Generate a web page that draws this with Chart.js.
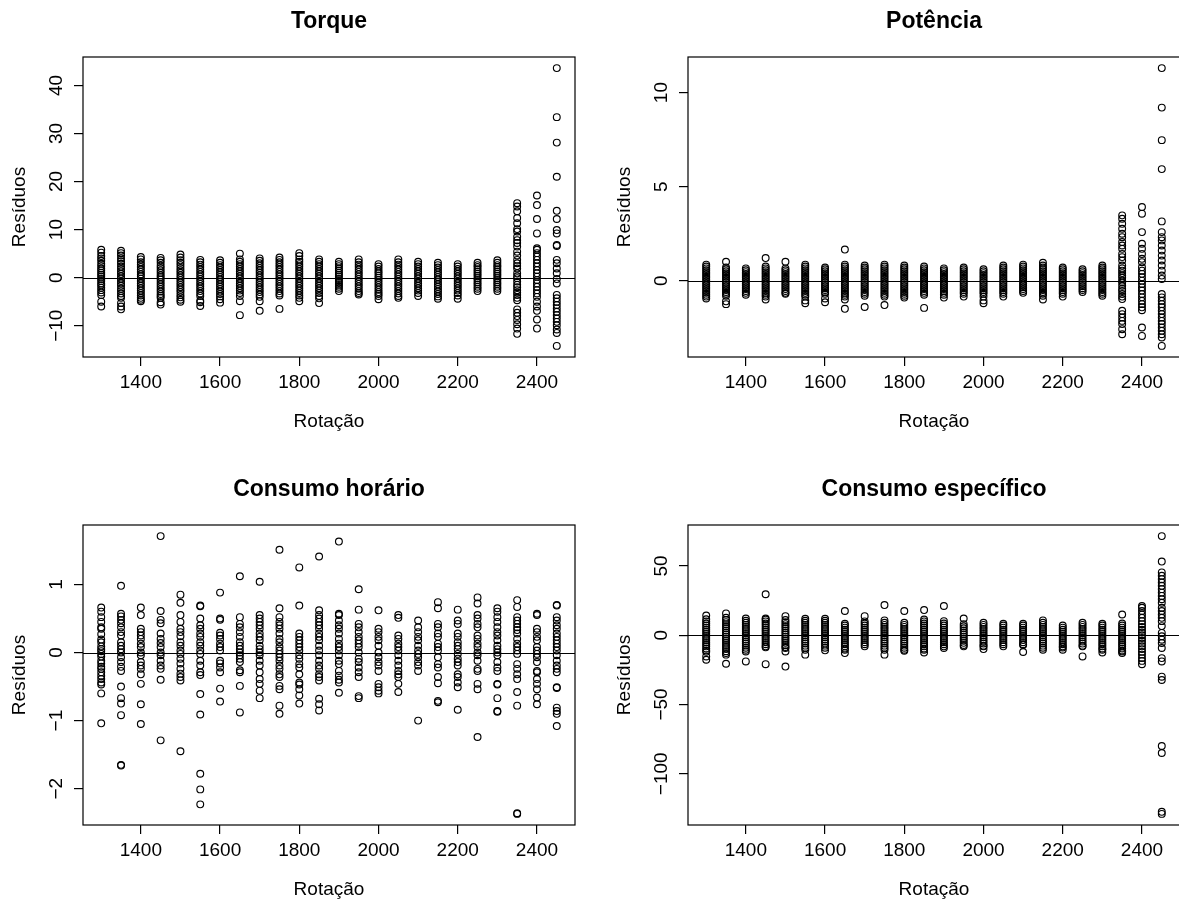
<!DOCTYPE html>
<html lang="pt">
<head>
<meta charset="UTF-8">
<title>Resíduos x Rotação</title>
<script src="https://cdn.jsdelivr.net/npm/chart.js"></script>
<style>
  html, body { margin: 0; padding: 0; background: #fff; }
  #quadro { position: relative; width: 1179px; height: 900px; overflow: hidden; background: #fff; }
  #quadro canvas { position: absolute; }
</style>
</head>
<body>
<div id="quadro">
  <canvas id="c1" width="605" height="468" style="left:0;top:0"></canvas>
  <canvas id="c2" width="605" height="468" style="left:605px;top:0"></canvas>
  <canvas id="c3" width="605" height="468" style="left:0;top:468px"></canvas>
  <canvas id="c4" width="605" height="468" style="left:605px;top:468px"></canvas>
</div>
<script>
// rotações ensaiadas (eixo x de todos os painéis)
const rotacao = [1300, 1350, 1400, 1450, 1500, 1550, 1600, 1650, 1700, 1750, 1800, 1850,
                 1900, 1950, 2000, 2050, 2100, 2150, 2200, 2250, 2300, 2350, 2400, 2450];
const xTicks = [1400, 1600, 1800, 2000, 2200, 2400];

// resíduos, uma lista por rotação
const torqueRes = [
  [5.8, 5.2, 4.5, 4.0, 3.5, 2.9, 2.4, 1.9, 1.5, 1.0, 0.6, 0.2, -0.3, -0.7, -1.2, -1.6, -2.1, -2.6, -3.1, -3.6, -5.0, -6.0],
  [5.6, 5.1, 4.6, 4.0, 3.4, 2.9, 2.3, 1.8, 1.3, 0.8, 0.3, -0.2, -0.7, -1.2, -1.7, -2.3, -2.8, -3.3, -3.8, -4.2, -5.3, -6.0, -6.6],
  [4.3, 3.8, 3.2, 2.7, 2.2, 1.7, 1.2, 0.7, 0.3, -0.2, -0.7, -1.2, -1.7, -2.2, -2.7, -3.2, -3.7, -4.2, -4.6, -4.9],
  [4.1, 3.6, 3.1, 2.5, 2.0, 1.5, 1.0, 0.5, 0.1, -0.4, -0.9, -1.4, -1.9, -2.4, -2.9, -3.4, -3.8, -4.2, -5.1, -5.6],
  [4.8, 4.2, 3.6, 3.1, 2.6, 2.0, 1.5, 1.0, 0.5, 0.0, -0.5, -1.0, -1.5, -2.0, -2.5, -3.0, -3.6, -4.1, -4.6, -5.0],
  [3.7, 3.2, 2.7, 2.2, 1.7, 1.2, 0.7, 0.2, -0.3, -0.8, -1.3, -1.8, -2.3, -2.8, -3.3, -3.8, -4.8, -5.1, -5.9],
  [3.6, 3.1, 2.6, 2.1, 1.6, 1.1, 0.6, 0.1, -0.4, -0.9, -1.4, -1.9, -2.4, -2.9, -3.4, -3.9, -4.5, -5.2],
  [5.0, 3.8, 3.3, 2.8, 2.3, 1.8, 1.3, 0.8, 0.3, -0.2, -0.7, -1.2, -1.7, -2.2, -2.7, -3.2, -3.8, -4.9, -7.8],
  [4.0, 3.5, 3.0, 2.5, 2.0, 1.5, 1.0, 0.5, 0.0, -0.5, -1.0, -1.5, -2.0, -2.5, -3.0, -3.5, -4.0, -4.9, -6.9],
  [4.2, 3.7, 3.2, 2.7, 2.2, 1.7, 1.2, 0.7, 0.2, -0.3, -0.8, -1.3, -1.8, -2.3, -2.8, -3.3, -3.7, -6.5],
  [5.1, 4.5, 3.8, 3.3, 2.8, 2.3, 1.8, 1.3, 0.8, 0.3, -0.2, -0.7, -1.2, -1.7, -2.2, -2.7, -3.2, -3.7, -4.2, -4.9],
  [3.8, 3.3, 2.8, 2.3, 1.8, 1.3, 0.8, 0.3, -0.2, -0.7, -1.2, -1.7, -2.2, -2.7, -3.2, -3.8, -4.3, -5.3],
  [3.3, 2.8, 2.4, 1.9, 1.5, 1.0, 0.6, 0.2, -0.3, -0.7, -1.1, -1.5, -1.9, -2.3, -2.8],
  [3.8, 3.2, 2.7, 2.2, 1.7, 1.2, 0.7, 0.2, -0.3, -0.8, -1.3, -1.8, -2.3, -2.8, -3.2, -3.5],
  [2.8, 2.3, 1.8, 1.3, 0.9, 0.4, 0.0, -0.5, -1.0, -1.5, -2.0, -2.5, -3.0, -3.4, -3.8, -4.5],
  [3.8, 3.2, 2.7, 2.2, 1.7, 1.2, 0.7, 0.2, -0.3, -0.8, -1.3, -1.8, -2.3, -2.8, -3.3, -3.8, -4.2],
  [3.3, 2.8, 2.3, 1.8, 1.3, 0.8, 0.3, -0.2, -0.7, -1.2, -1.7, -2.2, -2.7, -3.2, -3.8],
  [3.1, 2.6, 2.1, 1.6, 1.1, 0.6, 0.1, -0.4, -0.9, -1.4, -1.9, -2.4, -2.9, -3.4, -3.9, -4.4],
  [2.8, 2.3, 1.8, 1.3, 0.8, 0.3, -0.2, -0.7, -1.2, -1.7, -2.2, -2.7, -3.2, -3.7, -4.4],
  [3.1, 2.6, 2.2, 1.7, 1.3, 0.8, 0.4, -0.1, -0.5, -1.0, -1.4, -1.9, -2.3, -2.8],
  [3.6, 3.1, 2.6, 2.2, 1.7, 1.3, 0.8, 0.4, -0.1, -0.5, -1.0, -1.4, -1.9, -2.3, -2.8],
  [15.5, 14.8, 13.8, 12.4, 11.3, 10.1, 9.6, 8.5, 7.8, 7.2, 6.5, 5.4, 4.6, 3.7, 3.0, 2.4, 1.9, 0.9, 0.3, -0.1, -0.8, -1.5,
   -2.0, -2.6, -3.1, -3.6, -4.2, -4.7, -6.6, -7.3, -8.0, -8.8, -9.7, -10.6, -11.7],
  [17.1, 15.1, 12.2, 9.2, 6.1, 5.8, 5.1, 4.4, 3.7, 3.0, 2.3, 1.6, 0.9, 0.2, -0.5, -1.2, -1.9, -2.6, -3.3, -4.0, -5.0,
   -6.0, -6.9, -8.7, -10.6],
  [43.6, 33.4, 28.1, 21.0, 13.9, 12.2, 9.9, 9.2, 6.8, 6.6, 3.7, 3.0, 1.9, 0.9, -0.3, -1.2, -3.6, -4.3, -5.0, -5.7, -6.4,
   -7.1, -7.8, -8.5, -9.2, -9.9, -10.8, -11.5, -14.2]
];

const potenciaRes = [
  [0.85, 0.75, 0.65, 0.55, 0.45, 0.35, 0.25, 0.15, 0.05, -0.05, -0.15, -0.25, -0.35, -0.45, -0.55, -0.65, -0.75, -0.85, -0.95],
  [1.0, 0.7, 0.6, 0.5, 0.4, 0.3, 0.2, 0.1, 0.0, -0.1, -0.2, -0.3, -0.4, -0.5, -0.6, -0.7, -0.8, -1.1, -1.25],
  [0.65, 0.55, 0.45, 0.35, 0.25, 0.15, 0.05, -0.05, -0.15, -0.25, -0.35, -0.45, -0.55, -0.65, -0.75],
  [1.2, 0.75, 0.65, 0.55, 0.45, 0.35, 0.25, 0.15, 0.05, -0.05, -0.15, -0.25, -0.35, -0.45, -0.55, -0.65, -0.75, -0.85, -1.0],
  [1.0, 0.65, 0.55, 0.45, 0.35, 0.25, 0.15, 0.05, -0.05, -0.15, -0.25, -0.35, -0.45, -0.55, -0.65, -0.7],
  [0.85, 0.75, 0.65, 0.55, 0.45, 0.35, 0.25, 0.15, 0.05, -0.05, -0.15, -0.25, -0.35, -0.45, -0.55, -0.65, -0.75, -0.85, -1.05, -1.2],
  [0.7, 0.6, 0.5, 0.4, 0.3, 0.2, 0.1, 0.0, -0.1, -0.2, -0.3, -0.4, -0.5, -0.6, -0.7, -0.95, -1.15],
  [1.65, 0.85, 0.75, 0.65, 0.55, 0.45, 0.35, 0.25, 0.15, 0.05, -0.05, -0.15, -0.25, -0.35, -0.45, -0.55, -0.65, -0.75, -0.85, -1.0, -1.5],
  [0.8, 0.7, 0.6, 0.5, 0.4, 0.3, 0.2, 0.1, 0.0, -0.1, -0.2, -0.3, -0.4, -0.5, -0.6, -0.7, -0.8, -1.4],
  [0.85, 0.75, 0.65, 0.55, 0.45, 0.35, 0.25, 0.15, 0.05, -0.05, -0.15, -0.25, -0.35, -0.45, -0.55, -0.65, -0.75, -0.85, -1.3],
  [0.8, 0.7, 0.6, 0.5, 0.4, 0.3, 0.2, 0.1, 0.0, -0.1, -0.2, -0.3, -0.4, -0.5, -0.6, -0.7, -0.8, -0.9],
  [0.75, 0.65, 0.55, 0.45, 0.35, 0.25, 0.15, 0.05, -0.05, -0.15, -0.25, -0.35, -0.45, -0.55, -0.65, -0.75, -1.45],
  [0.65, 0.55, 0.45, 0.35, 0.25, 0.15, 0.05, -0.05, -0.15, -0.25, -0.35, -0.45, -0.55, -0.65, -0.75, -0.9],
  [0.7, 0.6, 0.5, 0.4, 0.3, 0.2, 0.1, 0.0, -0.1, -0.2, -0.3, -0.4, -0.5, -0.6, -0.7, -0.85],
  [0.6, 0.5, 0.4, 0.3, 0.2, 0.1, 0.0, -0.1, -0.2, -0.3, -0.4, -0.5, -0.6, -0.7, -0.85, -1.05, -1.2],
  [0.8, 0.7, 0.6, 0.5, 0.4, 0.3, 0.2, 0.1, 0.0, -0.1, -0.2, -0.3, -0.4, -0.5, -0.6, -0.7, -0.85],
  [0.85, 0.75, 0.65, 0.55, 0.45, 0.35, 0.25, 0.15, 0.05, -0.05, -0.15, -0.25, -0.35, -0.45, -0.55, -0.65],
  [0.95, 0.8, 0.7, 0.6, 0.5, 0.4, 0.3, 0.2, 0.1, 0.0, -0.1, -0.2, -0.3, -0.4, -0.5, -0.6, -0.7, -0.8, -1.0],
  [0.7, 0.6, 0.5, 0.4, 0.3, 0.2, 0.1, 0.0, -0.1, -0.2, -0.3, -0.4, -0.5, -0.6, -0.7, -0.85],
  [0.6, 0.5, 0.4, 0.3, 0.2, 0.1, 0.0, -0.1, -0.2, -0.3, -0.4, -0.5, -0.6],
  [0.8, 0.7, 0.6, 0.5, 0.4, 0.3, 0.2, 0.1, 0.0, -0.1, -0.2, -0.3, -0.4, -0.5, -0.6, -0.7, -0.8],
  [3.47, 3.29, 3.02, 2.76, 2.49, 2.31, 2.05, 1.87, 1.69, 1.42, 1.25, 1.07, 0.8, 0.65, 0.53, 0.4, 0.27, 0.15, 0.0, -0.1,
   -0.27, -0.44, -0.55, -0.71, -0.85, -0.98, -1.6, -1.78, -1.96, -2.14, -2.31, -2.58, -2.85],
  [3.91, 3.56, 2.58, 1.96, 1.69, 1.42, 1.16, 0.98, 0.71, 0.53, 0.36, 0.18, 0.0, -0.18, -0.36, -0.53, -0.71, -0.89,
   -1.07, -1.25, -1.42, -1.57, -2.49, -2.94],
  [11.3, 9.2, 7.47, 5.93, 3.15, 2.58, 2.31, 2.14, 1.87, 1.6, 1.33, 1.07, 0.8, 0.53, 0.27, 0.09, -0.71, -0.89, -1.07,
   -1.25, -1.42, -1.6, -1.78, -1.96, -2.14, -2.31, -2.49, -2.67, -2.85, -3.02, -3.47]
];

const horarioRes = [
  [0.66, 0.6, 0.52, 0.45, 0.37, 0.35, 0.27, 0.19, 0.15, 0.09, 0.05, 0.02, -0.02, -0.06, -0.12, -0.16, -0.21, -0.24, -0.29, -0.34, -0.39, -0.44, -0.47, -0.6, -1.04],
  [0.98, 0.57, 0.53, 0.48, 0.43, 0.37, 0.3, 0.25, 0.15, 0.1, 0.05, 0.0, -0.07, -0.14, -0.21, -0.27, -0.5, -0.67, -0.75, -0.92, -1.66, -1.65],
  [0.66, 0.55, 0.35, 0.3, 0.25, 0.2, 0.13, 0.08, 0.0, -0.04, -0.14, -0.19, -0.24, -0.32, -0.46, -0.76, -1.05],
  [1.71, 0.61, 0.48, 0.43, 0.28, 0.2, 0.14, 0.08, 0.0, -0.04, -0.12, -0.19, -0.24, -0.4, -1.29],
  [0.85, 0.73, 0.55, 0.45, 0.35, 0.3, 0.24, 0.15, 0.1, 0.03, -0.02, -0.09, -0.16, -0.24, -0.31, -0.36, -0.41, -1.45],
  [0.69, 0.68, 0.5, 0.4, 0.35, 0.28, 0.23, 0.15, 0.1, 0.03, -0.02, -0.12, -0.19, -0.29, -0.33, -0.61, -0.91, -1.78, -2.01, -2.23],
  [0.88, 0.5, 0.48, 0.29, 0.25, 0.2, 0.13, 0.08, 0.03, -0.12, -0.16, -0.22, -0.29, -0.53, -0.72],
  [1.12, 0.52, 0.42, 0.37, 0.3, 0.23, 0.15, 0.1, 0.05, 0.0, -0.04, -0.09, -0.14, -0.26, -0.29, -0.49, -0.88],
  [1.04, 0.55, 0.5, 0.45, 0.4, 0.35, 0.28, 0.23, 0.18, 0.1, 0.05, 0.0, -0.04, -0.12, -0.19, -0.29, -0.39, -0.46, -0.56, -0.67],
  [1.51, 0.65, 0.52, 0.45, 0.4, 0.35, 0.28, 0.2, 0.15, 0.08, 0.03, -0.02, -0.07, -0.12, -0.19, -0.24, -0.32, -0.36, -0.49, -0.54, -0.78, -0.9],
  [1.25, 0.69, 0.28, 0.23, 0.18, 0.13, 0.08, 0.03, -0.04, -0.09, -0.17, -0.22, -0.32, -0.44, -0.47, -0.54, -0.63, -0.75],
  [1.41, 0.62, 0.55, 0.5, 0.45, 0.4, 0.35, 0.28, 0.23, 0.18, 0.1, 0.03, -0.04, -0.12, -0.19, -0.24, -0.32, -0.36, -0.41, -0.68, -0.76, -0.85],
  [1.63, 0.57, 0.55, 0.47, 0.4, 0.35, 0.28, 0.2, 0.13, 0.08, 0.03, -0.04, -0.12, -0.17, -0.27, -0.34, -0.4, -0.44, -0.59],
  [0.93, 0.63, 0.42, 0.37, 0.3, 0.23, 0.18, 0.13, 0.08, 0.0, -0.09, -0.14, -0.22, -0.29, -0.36, -0.64, -0.67],
  [0.62, 0.35, 0.3, 0.23, 0.18, 0.1, 0.0, -0.07, -0.14, -0.19, -0.27, -0.46, -0.51, -0.56, -0.6],
  [0.55, 0.51, 0.25, 0.2, 0.13, 0.08, 0.03, -0.04, -0.12, -0.19, -0.27, -0.32, -0.36, -0.46, -0.58],
  [0.47, 0.37, 0.3, 0.23, 0.18, 0.1, 0.03, -0.02, -0.07, -0.14, -0.19, -0.27, -1.0],
  [0.74, 0.65, 0.42, 0.37, 0.28, 0.23, 0.13, 0.08, 0.03, -0.07, -0.17, -0.22, -0.36, -0.45, -0.71, -0.73],
  [0.63, 0.47, 0.42, 0.28, 0.23, 0.15, 0.1, 0.05, -0.02, -0.09, -0.14, -0.19, -0.32, -0.36, -0.44, -0.51, -0.84],
  [0.81, 0.72, 0.55, 0.5, 0.42, 0.37, 0.25, 0.2, 0.13, 0.08, 0.0, -0.04, -0.12, -0.24, -0.27, -0.46, -0.54, -1.24],
  [0.65, 0.6, 0.52, 0.45, 0.37, 0.3, 0.25, 0.18, 0.1, 0.05, 0.0, -0.04, -0.14, -0.22, -0.27, -0.46, -0.47, -0.67, -0.86, -0.87],
  [0.77, 0.67, 0.52, 0.47, 0.42, 0.37, 0.33, 0.28, 0.2, 0.13, 0.08, 0.03, -0.02, -0.17, -0.24, -0.32, -0.39, -0.58, -0.78, -2.36, -2.37],
  [0.57, 0.55, 0.35, 0.3, 0.23, 0.18, 0.08, 0.03, -0.02, -0.07, -0.14, -0.27, -0.29, -0.39, -0.46, -0.54, -0.66, -0.76],
  [0.7, 0.69, 0.52, 0.47, 0.4, 0.35, 0.28, 0.23, 0.18, 0.13, 0.08, 0.03, -0.04, -0.12, -0.19, -0.24, -0.29, -0.51, -0.52, -0.81, -0.86, -0.9, -1.08]
];

const especificoRes = [
  [14.3, 11.5, 10, 8.5, 7, 5.5, 4, 2.5, 1, -0.5, -2, -3.5, -5, -6.5, -8, -9.5, -11, -12, -15.3, -17.7],
  [15.8, 12.6, 11, 9.5, 8, 6.5, 5, 3.5, 2, 0.5, -1, -2.5, -4, -5.5, -7, -8.5, -10, -11.5, -12.9, -14, -20.6],
  [12.1, 10.5, 9, 7.5, 6, 4.5, 3, 1.5, 0, -1.5, -3, -4.5, -6, -7.5, -9, -10.5, -11.7, -18.9],
  [29.6, 12.1, 11.4, 10, 8.5, 7, 5.5, 4, 2.5, 1, -0.5, -2, -3.5, -5, -6.5, -8, -8.7, -20.9],
  [13.8, 11, 9.5, 8, 6.5, 5, 3.5, 2, 0.5, -1, -2.5, -4, -5.5, -7, -8.5, -9.2, -11.7, -22.6],
  [11.9, 10.5, 9, 7.5, 6, 4.5, 3, 1.5, 0, -1.5, -3, -4.5, -6, -7.5, -9, -10.4, -14],
  [11.9, 10.5, 9, 7.5, 6, 4.5, 3, 1.5, 0, -1.5, -3, -4.5, -6, -7.5, -9, -10.9],
  [17.5, 8.3, 7, 5.5, 4, 2.5, 1, -0.5, -2, -3.5, -5, -6.5, -8, -9.5, -10.4, -12.9],
  [13.8, 10, 8.5, 7, 5.5, 4, 2.5, 1, -0.5, -2, -3.5, -5, -6.5, -8],
  [21.8, 10.7, 9, 7.5, 6, 4.5, 3, 1.5, 0, -1.5, -3, -4.5, -6, -7.5, -9, -10.4, -14],
  [17.5, 9, 7.5, 6, 4.5, 3, 1.5, 0, -1.5, -3, -4.5, -6, -7.5, -9, -10.4, -11.2],
  [18.2, 11.4, 10, 8.5, 7, 5.5, 4, 2.5, 1, -0.5, -2, -3.5, -5, -6.5, -8, -9.5, -10.4, -12.4],
  [21.1, 10.2, 8.5, 7, 5.5, 4, 2.5, 1, -0.5, -2, -3.5, -5, -6.5, -8, -9.2],
  [12.1, 8, 6.5, 5, 3.5, 2, 0.5, -1, -2.5, -4, -5.5, -7, -8],
  [9, 7.5, 6, 4.5, 3, 1.5, 0, -1.5, -3, -4.5, -6, -7.5, -8, -10],
  [8.3, 7, 5.5, 4, 2.5, 1, -0.5, -2, -3.5, -5, -6.5, -8],
  [8.3, 7, 5.5, 4, 2.5, 1, -0.5, -2, -3.5, -5, -6.5, -7, -12.1],
  [10.7, 9, 7.5, 6, 4.5, 3, 1.5, 0, -1.5, -3, -4.5, -6, -7.5, -9, -10.4],
  [7, 5.5, 4, 2.5, 1, -0.5, -2, -3.5, -5, -6.5, -8, -8.8, -10.4],
  [9, 7.5, 6, 4.5, 3, 1.5, 0, -1.5, -3, -4.5, -6, -7.5, -8, -15.3],
  [8.3, 7, 5.5, 4, 2.5, 1, -0.5, -2, -3.5, -5, -6.5, -8, -9.5, -10.4, -12.4],
  [15, 8.5, 7, 5.5, 4, 2.5, 1, -0.5, -2, -3.5, -5, -6.5, -8, -9.5, -11, -11.7, -12.9],
  [21.1, 19.9, 17.5, 15, 12.6, 10.2, 8, 6, 4, 2, 0, -2, -4, -6, -8, -10, -12, -14, -16.5, -18.5, -20.9],
  [71.6, 53.2, 45.4, 43, 40.5, 38.1, 35.7, 33.3, 30.8, 28.4, 26, 23.5, 19.9, 17.5, 15, 12.6, 10.2, 6.6, 1.7, -0.7,
   -3.2, -5.6, -9.2, -16.5, -18.9, -29.9, -32.3, -80, -85, -127.5, -129]
];

// marcas do eixo y de cada painel
const torqueTicks = [-10, 0, 10, 20, 30, 40];
const potenciaTicks = [0, 5, 10];
const horarioTicks = [-2, -1, 0, 1];
const especificoTicks = [-100, -50, 0, 50];

const fonte = "'Liberation Sans', Arial, Helvetica, sans-serif";
Chart.defaults.font.family = fonte;
Chart.defaults.color = '#000';

function rotulo(v) {
  return v < 0 ? '\u2212' + Math.abs(v) : String(v);
}

// faixa como no R: amplitude dos dados + 4% de cada lado
function faixa(vals) {
  const lo = Math.min(...vals), hi = Math.max(...vals);
  const d = (hi - lo) * 0.04;
  return [lo - d, hi + d];
}

// caixa, linha do zero e rótulos verticais do eixo y
const moldura = {
  id: 'moldura',
  afterDatasetsDraw(chart, args, opts) {
    const { ctx, chartArea: a } = chart;
    const y = chart.scales.y;
    ctx.save();
    ctx.strokeStyle = '#000';
    ctx.lineWidth = 1.2;
    const y0 = Math.round(y.getPixelForValue(0)) + 0.5;
    ctx.beginPath();
    ctx.moveTo(a.left, y0);
    ctx.lineTo(a.right, y0);
    ctx.stroke();
    ctx.strokeRect(a.left, a.top, a.right - a.left, a.bottom - a.top);

    ctx.fillStyle = '#000';
    ctx.font = '19px ' + fonte;
    ctx.textAlign = 'center';
    ctx.textBaseline = 'middle';
    opts.ticks.forEach(v => {
      ctx.save();
      ctx.translate(a.left - 26, y.getPixelForValue(v));
      ctx.rotate(-Math.PI / 2);
      ctx.fillText(rotulo(v), 0, 0);
      ctx.restore();
    });
    ctx.restore();
  }
};

function painel(id, titulo, res, ticks) {
  const pontos = [];
  rotacao.forEach((r, i) => res[i].forEach(v => pontos.push({ x: r, y: v })));
  const [xmin, xmax] = faixa(rotacao);
  const [ymin, ymax] = faixa(res.flat());

  return new Chart(document.getElementById(id), {
    type: 'scatter',
    data: {
      datasets: [{
        data: pontos,
        pointStyle: 'circle',
        pointRadius: 3.4,
        borderWidth: 1.15,
        borderColor: '#000',
        backgroundColor: 'rgba(0,0,0,0)'
      }]
    },
    options: {
      responsive: false,
      animation: false,
      events: [],
      layout: { padding: { top: 0, left: 0, right: 30, bottom: 31 } },
      plugins: {
        legend: { display: false },
        tooltip: { enabled: false },
        title: {
          display: true,
          text: titulo,
          fullSize: false,
          font: { size: 23, weight: 'bold' },
          padding: { top: 8, bottom: 21.4 }
        },
        moldura: { ticks: ticks }
      },
      scales: {
        x: {
          type: 'linear',
          min: xmin,
          max: xmax,
          afterBuildTicks: s => { s.ticks = xTicks.map(v => ({ value: v })); },
          afterFit: s => { s.height = 80; },
          ticks: { font: { size: 19 }, padding: 5, maxRotation: 0, callback: v => String(v) },
          grid: { drawOnChartArea: false, drawTicks: true, tickLength: 9, color: '#000', lineWidth: 1.2 },
          border: { display: false },
          title: { display: true, text: 'Rotação', font: { size: 19 }, padding: { top: 0, bottom: 4 } }
        },
        y: {
          type: 'linear',
          min: ymin,
          max: ymax,
          afterBuildTicks: s => { s.ticks = ticks.map(v => ({ value: v })); },
          afterFit: s => { s.width = 83; },
          ticks: { display: false },
          grid: { drawOnChartArea: false, drawTicks: true, tickLength: 9, color: '#000', lineWidth: 1.2 },
          border: { display: false },
          title: { display: true, text: 'Resíduos', font: { size: 19 }, padding: { top: 8, bottom: 0 } }
        }
      }
    },
    plugins: [moldura]
  });
}

painel('c1', 'Torque', torqueRes, torqueTicks);
painel('c2', 'Potência', potenciaRes, potenciaTicks);
painel('c3', 'Consumo horário', horarioRes, horarioTicks);
painel('c4', 'Consumo específico', especificoRes, especificoTicks);
</script>
</body>
</html>
